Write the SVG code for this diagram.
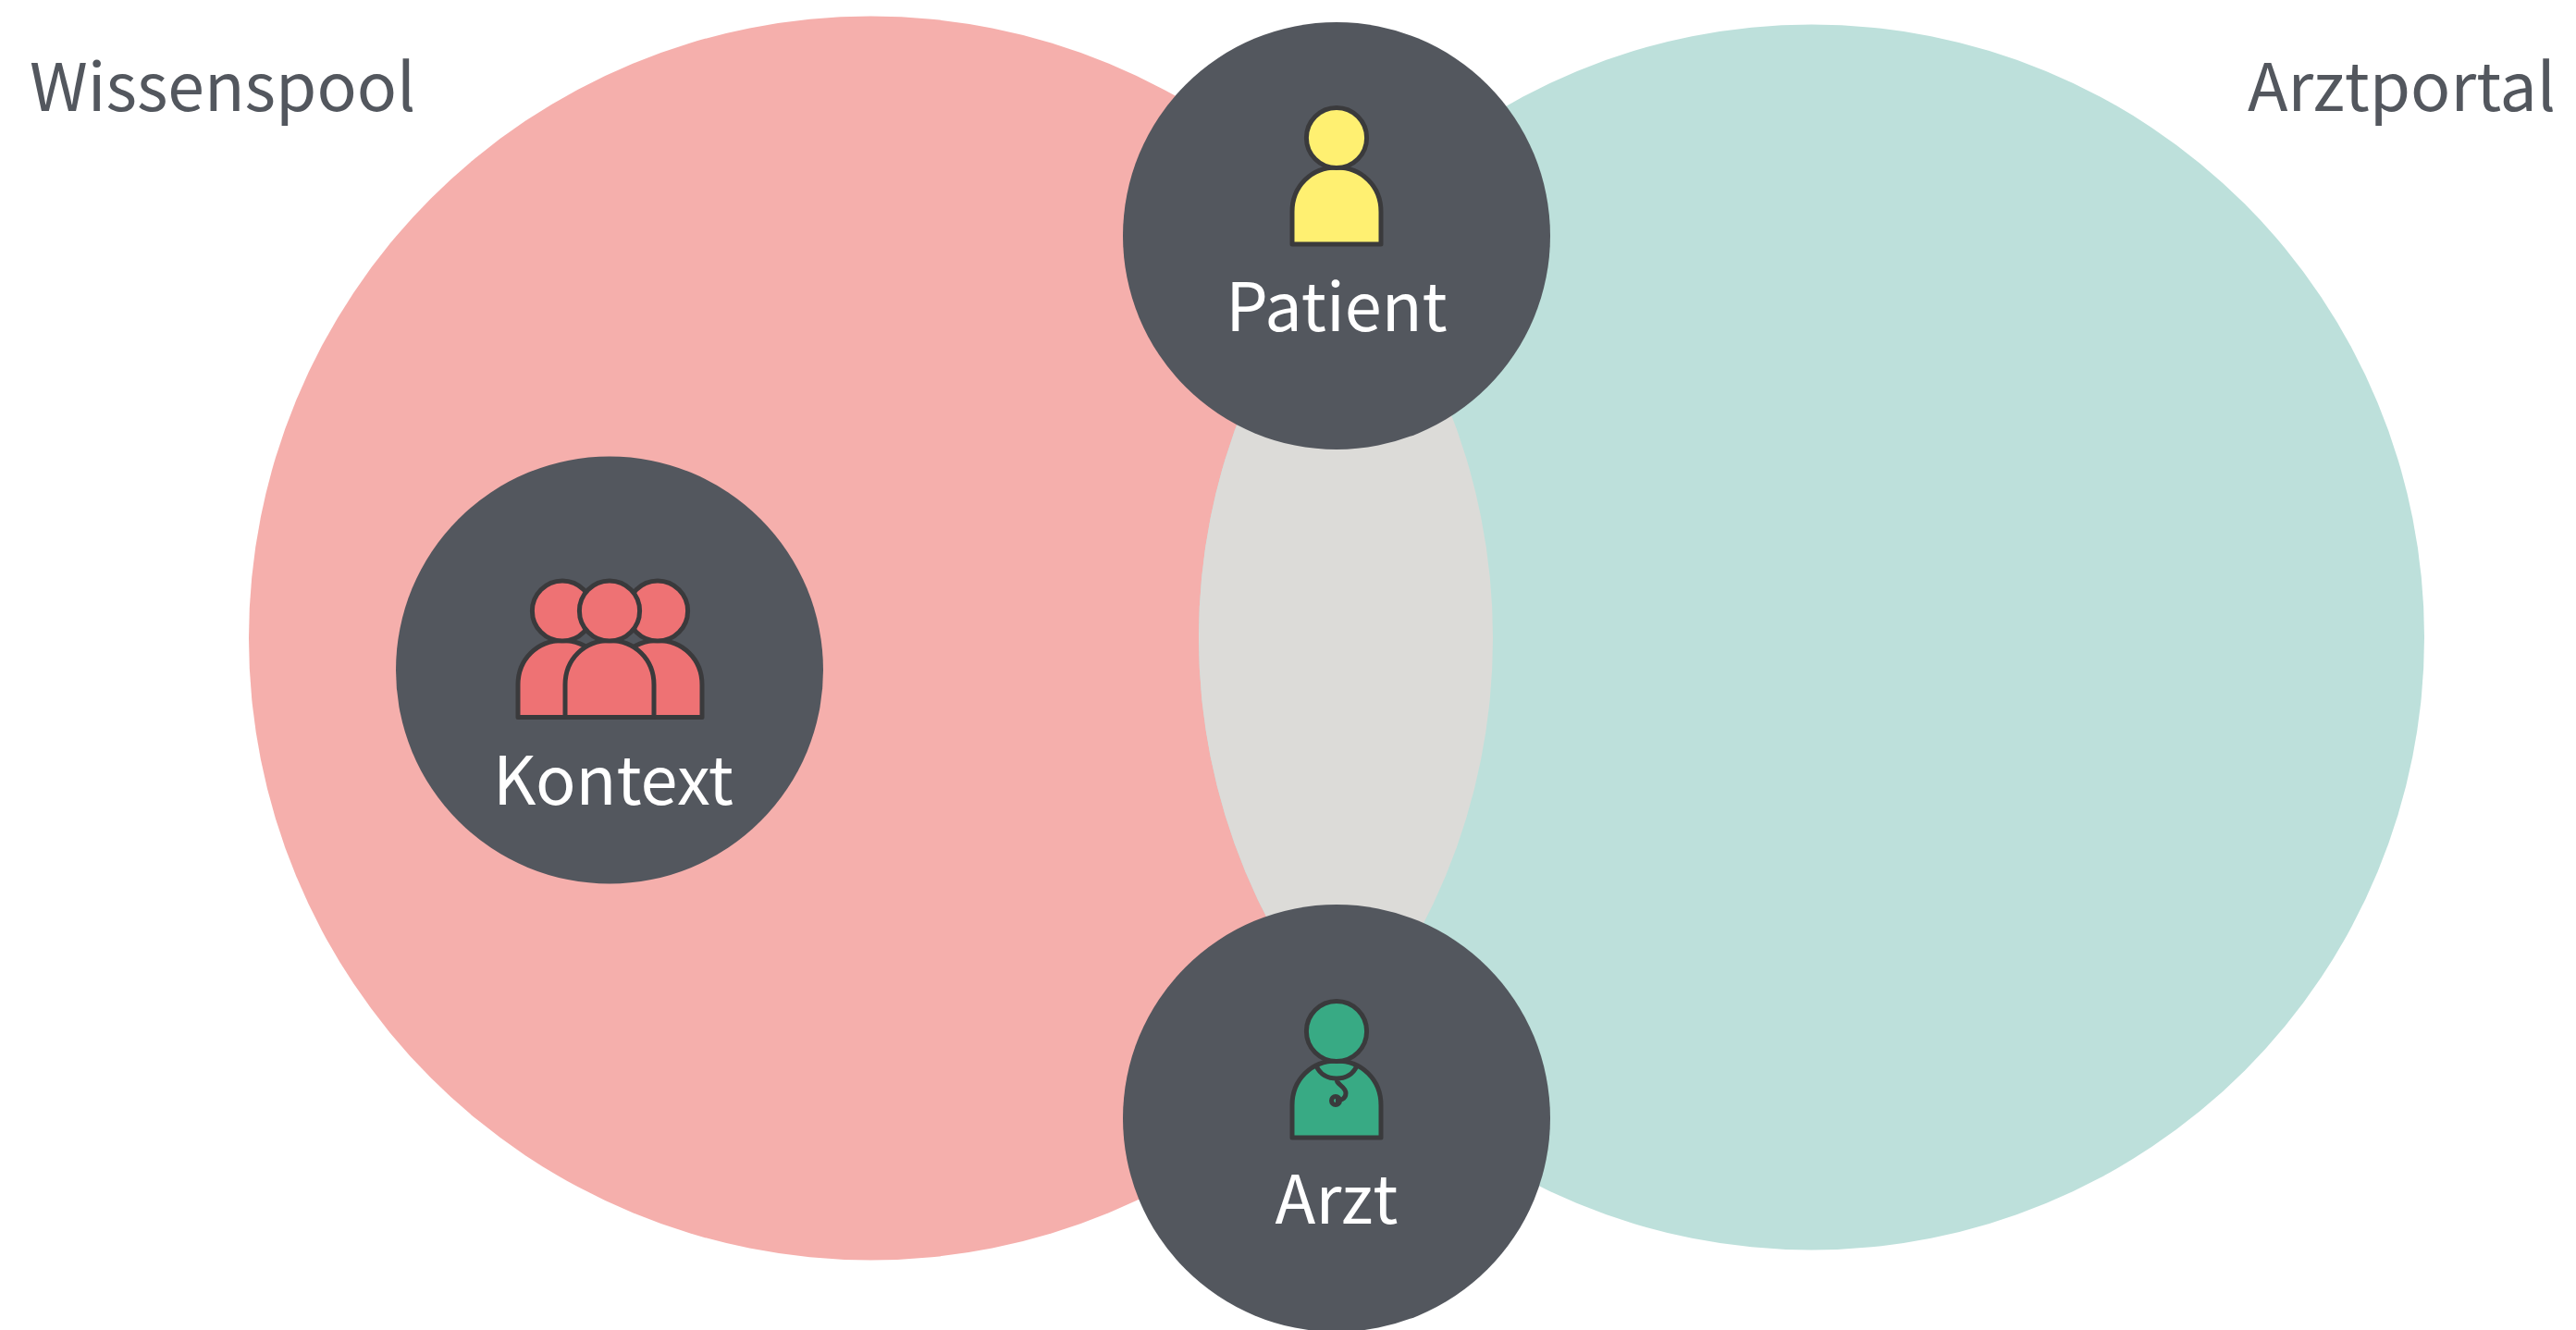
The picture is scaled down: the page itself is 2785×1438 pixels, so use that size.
<svg xmlns="http://www.w3.org/2000/svg" width="2785" height="1438" viewBox="0 0 2785 1438">
<style>
text{font-family:"Noto Sans CJK SC","Noto Sans",sans-serif;font-weight:400;font-size:72px}
.t{fill:#53575e}
.w{fill:#fff;text-anchor:middle}
.d{fill:#53575e}
.i{stroke:#3a3a3c;stroke-width:5;stroke-linejoin:round}
.n{fill:none}
</style>
<defs>
<clipPath id="redClip"><circle cx="941.500" cy="690" r="672.500"/></clipPath>
<g id="person"><path d="M-48 115V80C-48 52-27 32 0 32S48 52 48 80V115Z"/><circle cx="0" cy="0" r="32.600"/></g>
</defs>
<rect width="2785" height="1438" fill="#fff"/>
<g id="wissenspool"><circle cx="941.500" cy="690" r="672.500" fill="#f5afac"/><text class="t" x="32" y="120" font-size="71.500" style="font-size:71.5px">Wissenspool</text></g>
<g id="arztportal"><circle cx="1958.500" cy="689" r="662.500" fill="#bde0db"/><text class="t" x="2763" y="120" text-anchor="end" style="font-size:71.5px">Arztportal</text></g>
<g id="overlap"><circle cx="1958.500" cy="689" r="662.500" fill="#dcdbd8" clip-path="url(#redClip)"/></g>
<g id="connectors"/>
<g id="patient"><circle class="d" cx="1445" cy="255" r="231"/><use href="#person" x="1445" y="149" class="i" fill="#fff071"/><text class="w" x="1445" y="358">Patient</text></g>
<g id="kontext"><circle class="d" cx="659" cy="724.500" r="231"/>
<use href="#person" x="608" y="660.500" class="i" fill="#ee7274"/><use href="#person" x="711" y="660.500" class="i" fill="#ee7274"/><use href="#person" x="659" y="660.500" class="i" fill="#ee7274"/>
<text class="w" x="663" y="870">Kontext</text></g>
<g id="arzt"><circle class="d" cx="1445" cy="1209" r="231"/><use href="#person" x="1445" y="1115" class="i" fill="#38aa84"/>
<path class="i n" d="M1423 1152C1427 1162 1436 1166 1445 1166S1463 1162 1467 1152M1445 1166C1444 1173 1455 1174 1455 1182C1455 1189 1448 1190 1444 1190"/>
<circle class="i n" cx="1444" cy="1190" r="4.500"/>
<text class="w" x="1445" y="1323">Arzt</text></g>
</svg>
